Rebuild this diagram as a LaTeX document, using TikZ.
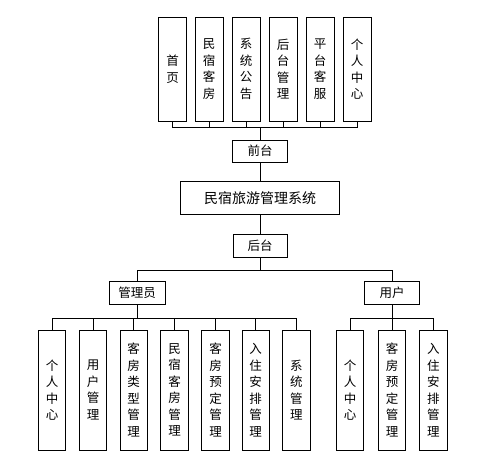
\documentclass[tikz,border=0pt]{standalone}
\usepackage{fontspec}
\setmainfont{Noto Sans CJK SC}

\begin{document}
\begin{tikzpicture}[x=1pt, y=-1pt, line width=0.9pt,
    every node/.style={draw, inner sep=0pt, font=\fontsize{12.5}{16.5}\selectfont},
    tbox/.style={minimum height=104pt, text width=28pt, align=center},
    bbox/.style={minimum height=120pt, text width=27.5pt, align=center},
    hbox/.style={minimum height=23pt, align=center}]
    \path[use as bounding box, fill=white] (0,0) rectangle (500,461);

    % front end pages
    \node[tbox] (T1) at (172.5,69) {首\\页};
    \node[tbox] (T2) at (209,69) {民\\宿\\客\\房};
    \node[tbox] (T3) at (246,69) {系\\统\\公\\告};
    \node[tbox] (T4) at (283,69) {后\\台\\管\\理};
    \node[tbox] (T5) at (320,69) {平\\台\\客\\服};
    \node[tbox] (T6) at (357,69) {个\\人\\中\\心};

    \node[hbox, minimum width=55pt, minimum height=22pt] (qt) at (260,151) {前台};
    \node[hbox, minimum width=159pt, minimum height=33pt, font=\fontsize{14}{16}\selectfont] (sys) at (260,198) {民宿旅游管理系统};
    \node[hbox, minimum width=54pt] (ht) at (260,245.5) {后台};

    \node[hbox, minimum width=56pt] (adm) at (137,293) {管理员};
    \node[hbox, minimum width=55pt] (usr) at (392,293) {用户};

    % admin side
    \node[bbox] (A1) at (52,390) {个\\人\\中\\心};
    \node[bbox] (A2) at (93,390) {用\\户\\管\\理};
    \node[bbox] (A3) at (133.7,390) {客\\房\\类\\型\\管\\理};
    \node[bbox] (A4) at (174.5,390) {民\\宿\\客\\房\\管\\理};
    \node[bbox] (A5) at (215.5,390) {客\\房\\预\\定\\管\\理};
    \node[bbox] (A6) at (255.7,390) {入\\住\\安\\排\\管\\理};
    \node[bbox] (A7) at (296.3,390) {系\\统\\管\\理};

    % user side
    \node[bbox] (U1) at (350,390) {个\\人\\中\\心};
    \node[bbox] (U2) at (392,390) {客\\房\\预\\定\\管\\理};
    \node[bbox] (U3) at (433.3,390) {入\\住\\安\\排\\管\\理};

    \coordinate (qbus) at (260,127);
    \coordinate (hbus) at (260,270);
    \coordinate (abus) at (137,318.5);
    \coordinate (ubus) at (392,318.5);

    \draw (qt) -- (qbus);
    \foreach \t in {T1, T2, T3, T4, T5, T6}
        \draw (\t) |- (qbus);

    \draw (qt) -- (sys) -- (ht);

    \draw (ht) -- (hbus);
    \draw (adm) |- (hbus);
    \draw (usr) |- (hbus);

    \draw (adm) -- (abus);
    \foreach \a in {A1, A2, A3, A4, A5, A6, A7}
        \draw (\a) |- (abus);

    \draw (usr) -- (ubus);
    \foreach \u in {U1, U2, U3}
        \draw (\u) |- (ubus);
\end{tikzpicture}
\end{document}
